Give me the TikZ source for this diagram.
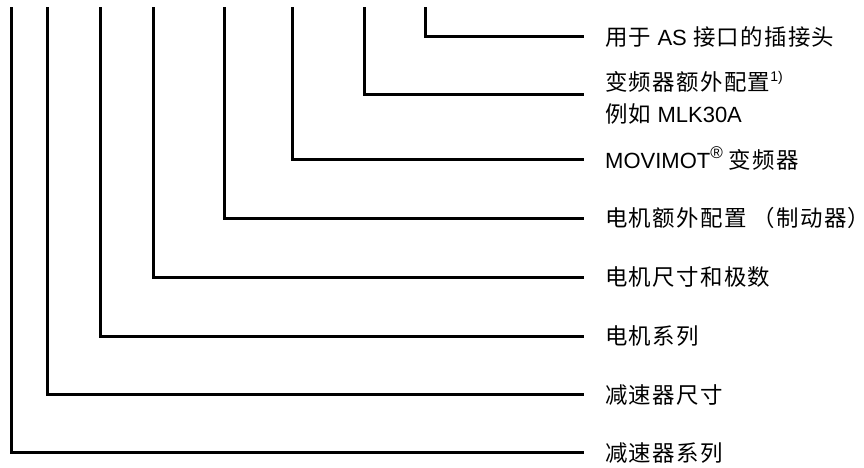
\documentclass[tikz,border=0pt]{standalone}
\usepackage{fontspec}
\setmainfont{Liberation Sans}
\newfontfamily\cjk{Noto Sans CJK SC}[Scale=1.02,LetterSpace=6]
\newcommand{\supx}[2][14]{\raisebox{0.42em}{\fontsize{#1}{#1}\selectfont #2}}
\begin{document}
\begin{tikzpicture}[x=1pt,y=-1pt,
  conn/.style={line width=3pt, black},
  lab/.style={anchor=base west, inner sep=0pt, align=left,
    font=\fontsize{22}{31.5}\selectfont}]
\useasboundingbox (0,0) rectangle (864,468);
% top ends
\coordinate (t1) at (11.7,7.5);
\coordinate (t2) at (47.3,7.5);
\coordinate (t3) at (100,7.5);
\coordinate (t4) at (153.3,7.5);
\coordinate (t5) at (224.5,7.5);
\coordinate (t6) at (292.5,7.5);
\coordinate (t7) at (364,7.5);
\coordinate (t8) at (425.8,7.5);
% line ends
\coordinate (e1) at (584,452.5);
\coordinate (e2) at (584,394.5);
\coordinate (e3) at (584,336);
\coordinate (e4) at (584,277);
\coordinate (e5) at (584,218);
\coordinate (e6) at (584,159);
\coordinate (e7) at (584,95);
\coordinate (e8) at (584,36.7);
% labels
\node[lab] (l8) at (605,45.2) {{\cjk 用于} AS {\cjk 接口的插接头}};
\node[lab] (l7) at (605,122) {{\cjk 变频器额外配置}\supx{1)}\\{\cjk 例如} MLK30A};
\node[lab] (l6) at (605,168) {MOVIMOT\supx[17]{®} {\cjk 变频器}};
\node[lab] (l5) at (605,226.5) {{\cjk 电机额外配置} {\cjk （制动器）}\kern-0.45em};
\node[lab] (l4) at (605,285.5) {\cjk 电机尺寸和极数};
\node[lab] (l3) at (605,344.5) {\cjk 电机系列};
\node[lab] (l2) at (605,403) {\cjk 减速器尺寸};
\node[lab] (l1) at (605,461) {\cjk 减速器系列};
% connectors
\draw[conn] (t1) |- (e1);
\draw[conn] (t2) |- (e2);
\draw[conn] (t3) |- (e3);
\draw[conn] (t4) |- (e4);
\draw[conn] (t5) |- (e5);
\draw[conn] (t6) |- (e6);
\draw[conn] (t7) |- (e7);
\draw[conn] (t8) |- (e8);
\end{tikzpicture}
\end{document}
